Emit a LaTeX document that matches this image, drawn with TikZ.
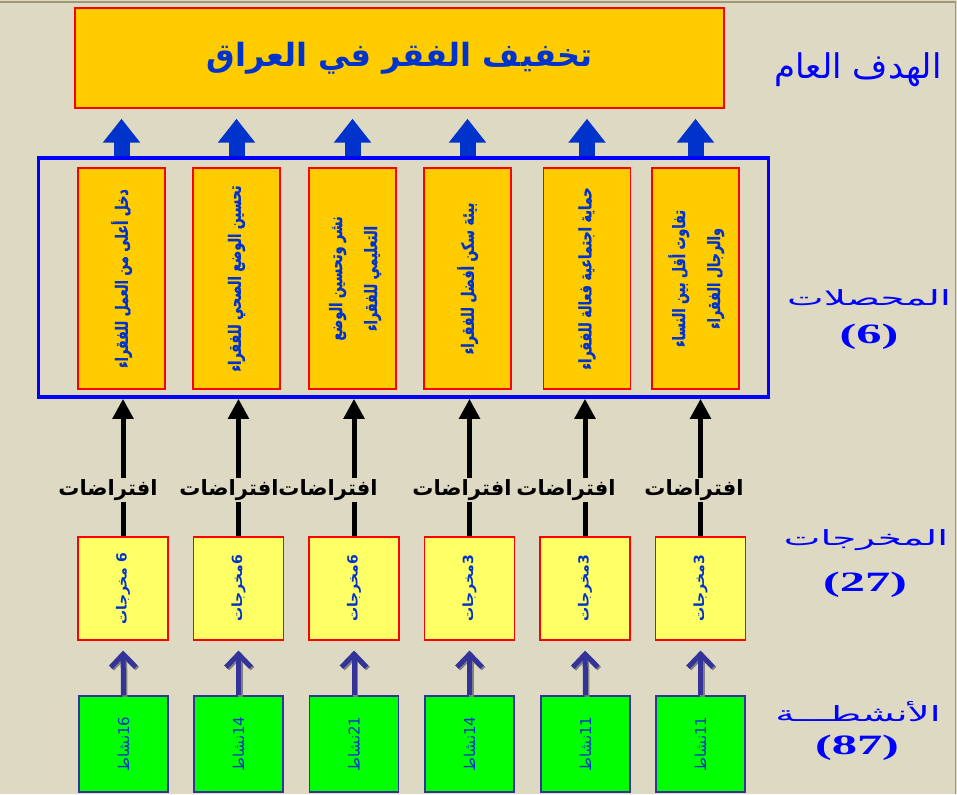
\documentclass[tikz,border=0pt]{standalone}
\usepackage{fontspec}
\usetikzlibrary{arrows.meta}
\newfontfamily\arabicfont[Script=Arabic]{DejaVu Sans}
\newfontfamily\narrowfont[Script=Arabic,FakeStretch=0.75,FakeBold=1]{DejaVu Sans}
\newfontfamily\widefont[Script=Arabic,FakeStretch=1.85]{DejaVu Sans}
\newfontfamily\numfont[FakeStretch=1.8]{Liberation Serif}
\TeXXeTstate=1
\definecolor{bgbeige}{RGB}{221,217,195}
\definecolor{gold}{RGB}{255,204,0}
\definecolor{txtblue}{RGB}{0,51,204}
\definecolor{lightyellow}{RGB}{255,255,102}
\definecolor{actgreen}{RGB}{0,255,0}
\definecolor{navy}{RGB}{51,51,153}
\definecolor{edge}{RGB}{160,150,120}
\begin{document}
\begin{tikzpicture}[x=1pt,y=-1pt,
  goal/.style={draw=red, line width=1.5pt, fill=gold, minimum width=649pt, minimum height=100pt, text=txtblue, font=\arabicfont\bfseries\fontsize{32}{38}\selectfont},
  frame/.style={draw=blue, line width=3.5pt, minimum width=730pt, minimum height=239pt},
  outcome/.style={draw=red, line width=1.2pt, fill=gold, minimum width=87pt, minimum height=221pt, inner sep=0pt, text=txtblue, font=\narrowfont\bfseries\fontsize{17}{35}\selectfont},
  output/.style={draw=red, line width=1.2pt, fill=lightyellow, minimum width=90pt, minimum height=103pt, inner sep=0pt, text=txtblue, font=\arabicfont\bfseries\fontsize{14}{18}\selectfont},
  activity/.style={draw=navy, line width=1.2pt, fill=actgreen, minimum width=89pt, minimum height=96pt, inner sep=0pt, text=txtblue, font=\arabicfont\fontsize{15}{18}\selectfont},
  assume/.style={fill=bgbeige, inner sep=1pt, font=\arabicfont\bfseries\fontsize{21}{24}\selectfont},
  side/.style={text=blue, font=\widefont\fontsize{21}{26}\selectfont},
  count/.style={text=blue, font=\numfont\bfseries\fontsize{28}{32}\selectfont},
  uparrow/.style={draw=txtblue, line width=16pt, -{Triangle[width=36pt,length=24pt]}, shorten >=10pt},
  blackarrow/.style={draw=black, line width=5pt, -{Triangle[width=20pt,length=20pt]}},
  navyarrow/.style={draw=navy, line width=5pt, -{Straight Barb[width=25pt,length=13pt]}, shorten >=10pt}]
\useasboundingbox (0,0) rectangle (957,794);
\fill[bgbeige] (0,0) rectangle (957,794);
\draw[edge, line width=1.5pt] (0,2) -- (955.5,2) -- (955.5,794);
% goal
\node[goal] (goal) at (399.5,58) {\beginR تخفيف الفقر في العراق\endR};
\node[side, font=\arabicfont\fontsize{34}{40}\selectfont] (goallbl) at (858,70) {\beginR الهدف العام\endR};
% outcomes
\node[frame] (frame) at (403.5,277.5) {};
\node[outcome] (r1) at (121.5,278.5) {\rotatebox{90}{\beginR دخل أعلى من العمل للفقراء\endR}};
\node[outcome] (r2) at (236.5,278.5) {\rotatebox{90}{\beginR تحسين الوضع الصحي للفقراء\endR}};
\node[outcome] (r3) at (352.5,278.5) {\rotatebox{90}{\begin{tabular}{c}\beginR نشر وتحسين الوضع\endR\\ \beginR التعليمي للفقراء\endR\end{tabular}}};
\node[outcome] (r4) at (467.5,278.5) {\rotatebox{90}{\beginR بيئة سكن أفضل للفقراء\endR}};
\node[outcome] (r5) at (587,278.5) {\rotatebox{90}{\beginR حماية اجتماعية فعالة للفقراء\endR}};
\node[outcome] (r6) at (695.5,278.5) {\rotatebox{90}{\begin{tabular}{c}\beginR تفاوت أقل بين النساء\endR\\ \beginR والرجال الفقراء\endR\end{tabular}}};
\node[side] (outclbl) at (869,298) {\beginR المحصلات\endR};
\node[count] (outcnum) at (869,337) {(6)};
\path[uparrow] (r1.north |- frame.north) -- (r1.north |- goal.south);
\path[uparrow] (r2.north |- frame.north) -- (r2.north |- goal.south);
\path[uparrow] (r3.north |- frame.north) -- (r3.north |- goal.south);
\path[uparrow] (r4.north |- frame.north) -- (r4.north |- goal.south);
\path[uparrow] (r5.north |- frame.north) -- (r5.north |- goal.south);
\path[uparrow] (r6.north |- frame.north) -- (r6.north |- goal.south);
% outputs
\node[output] (m1) at (123,588.5) {\rotatebox{90}{\beginR 6 مخرجات\endR}};
\node[output] (m2) at (238.5,588.5) {\rotatebox{90}{\beginR 6مخرجات\endR}};
\node[output] (m3) at (354,588.5) {\rotatebox{90}{\beginR 6مخرجات\endR}};
\node[output] (m4) at (469.5,588.5) {\rotatebox{90}{\beginR 3مخرجات\endR}};
\node[output] (m5) at (585,588.5) {\rotatebox{90}{\beginR 3مخرجات\endR}};
\node[output] (m6) at (700.5,588.5) {\rotatebox{90}{\beginR 3مخرجات\endR}};
\node[side] (outplbl) at (866,540) {\beginR المخرجات\endR};
\node[count] (outpnum) at (865,585) {(27)};
\path[blackarrow] (m1.north) -- (m1.north |- frame.south);
\path[blackarrow] (m2.north) -- (m2.north |- frame.south);
\path[blackarrow] (m3.north) -- (m3.north |- frame.south);
\path[blackarrow] (m4.north) -- (m4.north |- frame.south);
\path[blackarrow] (m5.north) -- (m5.north |- frame.south);
\path[blackarrow] (m6.north) -- (m6.north |- frame.south);
\node[assume] (h1) at (108,490) {\beginR افتراضات\endR};
\node[assume] (h2) at (229,490) {\beginR افتراضات\endR};
\node[assume] (h3) at (328,490) {\beginR افتراضات\endR};
\node[assume] (h4) at (462,490) {\beginR افتراضات\endR};
\node[assume] (h5) at (566,490) {\beginR افتراضات\endR};
\node[assume] (h6) at (694,490) {\beginR افتراضات\endR};
% activities
\node[activity] (a1) at (123.5,744) {\rotatebox{90}{\beginR 16نشاط\endR}};
\node[activity] (a2) at (238.5,744) {\rotatebox{90}{\beginR 14نشاط\endR}};
\node[activity] (a3) at (354,744) {\rotatebox{90}{\beginR 21نشاط\endR}};
\node[activity] (a4) at (469.5,744) {\rotatebox{90}{\beginR 14نشاط\endR}};
\node[activity] (a5) at (585.5,744) {\rotatebox{90}{\beginR 11نشاط\endR}};
\node[activity] (a6) at (700.5,744) {\rotatebox{90}{\beginR 11نشاط\endR}};
\node[side] (actlbl) at (858,712) {\beginR الأنشطـــة\endR};
\node[count] (actnum) at (857,748) {(87)};
\path[navyarrow, draw=gray, transform canvas={shift={(1.5pt,-1.5pt)}}] (a1.north) -- (m1.south);
\path[navyarrow, draw=gray, transform canvas={shift={(1.5pt,-1.5pt)}}] (a2.north) -- (m2.south);
\path[navyarrow, draw=gray, transform canvas={shift={(1.5pt,-1.5pt)}}] (a3.north) -- (m3.south);
\path[navyarrow, draw=gray, transform canvas={shift={(1.5pt,-1.5pt)}}] (a4.north) -- (m4.south);
\path[navyarrow, draw=gray, transform canvas={shift={(1.5pt,-1.5pt)}}] (a5.north) -- (m5.south);
\path[navyarrow, draw=gray, transform canvas={shift={(1.5pt,-1.5pt)}}] (a6.north) -- (m6.south);
\path[navyarrow] (a1.north) -- (m1.south);
\path[navyarrow] (a2.north) -- (m2.south);
\path[navyarrow] (a3.north) -- (m3.south);
\path[navyarrow] (a4.north) -- (m4.south);
\path[navyarrow] (a5.north) -- (m5.south);
\path[navyarrow] (a6.north) -- (m6.south);
\end{tikzpicture}
\end{document}
